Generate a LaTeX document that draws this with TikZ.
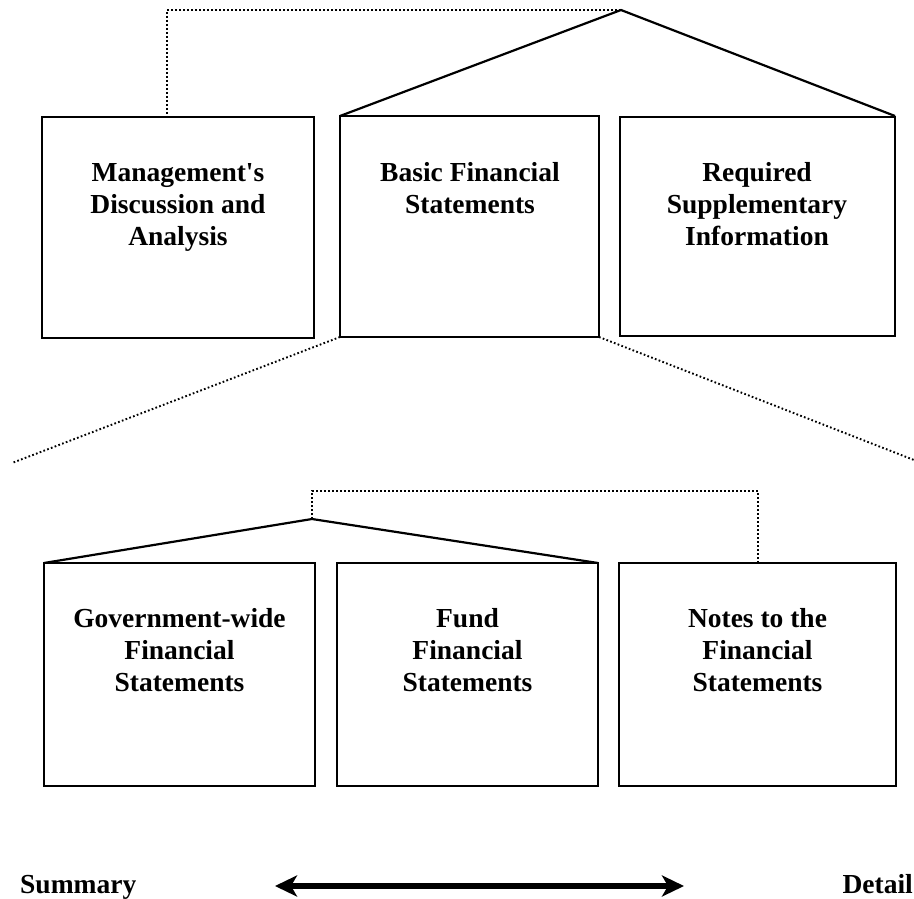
\documentclass[tikz,border=0pt]{standalone}
\usepackage{fontspec}
\setmainfont{Liberation Serif}[Ligatures=TeXOff]
\usetikzlibrary{arrows.meta}
\begin{document}
\begin{tikzpicture}[x=1pt,y=-1pt,
  box/.style={draw, line width=2.2pt, inner sep=0pt},
  roof/.style={line width=2.2pt, line join=miter},
  dots/.style={line width=1.9pt, dash pattern=on 1.7pt off 2.3pt},
  lbl/.style={font=\fontsize{27.5}{32}\selectfont\bfseries, align=center, anchor=base},
  bigarrow/.style={line width=6pt, {Stealth[length=22pt,width=21pt,inset=6pt]}-{Stealth[length=22pt,width=21pt,inset=6pt]}}
]
\useasboundingbox (0,0) rectangle (914,899);
% top boxes
\draw[box] (42,117) rectangle (314,338);
\draw[box] (340,116) rectangle (599,337);
\draw[box] (620,117) rectangle (895,336);
\coordinate (b1tl) at (42,117);
\coordinate (b1top) at (167,117);
\coordinate (b2tl) at (340,116);
\coordinate (b2bl) at (340,337);
\coordinate (b2br) at (599,337);
\coordinate (b3tr) at (895,116);
\coordinate (apex) at (621,10);
\coordinate (tl) at (167,10);
\node[lbl] (t1) at (178,245) {Management's\\Discussion and\\Analysis};
\node[lbl] (t2) at (470,213) {Basic Financial\\Statements};
\node[lbl] (t3) at (757,245) {Required\\Supplementary\\Information};
\draw[roof] (b2tl) -- (apex) -- (b3tr);
\draw[dots] (apex) -- (tl) -- (b1top);
% zoom lines
\coordinate (zl) at (12,463);
\coordinate (zr) at (914,460);
\draw[dots] (b2bl) -- (zl);
\draw[dots] (b2br) -- (zr);
% bottom boxes
\draw[box] (44,563) rectangle (315,786);
\draw[box] (337,563) rectangle (598,786);
\draw[box] (619,563) rectangle (896,786);
\coordinate (b4tl) at (44,563);
\coordinate (b5tr) at (598,563);
\coordinate (b6top) at (758,563);
\coordinate (apex2) at (312,519);
\coordinate (d1) at (312,491);
\coordinate (d2) at (758,491);
\node[lbl] (t4) at (179.5,691) {Government-wide\\Financial\\Statements};
\node[lbl] (t5) at (467.5,691) {Fund\\Financial\\Statements};
\node[lbl] (t6) at (757.5,691) {Notes to the\\Financial\\Statements};
\draw[roof] (b4tl) -- (apex2) -- (b5tr);
\draw[dots] (apex2) -- (d1) -- (d2) -- (b6top);
% bottom scale
\node[lbl, anchor=base west, inner sep=0pt] (sum) at (20,893) {Summary};
\node[lbl, anchor=base east, inner sep=0pt] (det) at (913,893) {Detail};
\coordinate (al) at (275,886);
\coordinate (ar) at (684,886);
\draw[bigarrow] (al) -- (ar);
\end{tikzpicture}
\end{document}
